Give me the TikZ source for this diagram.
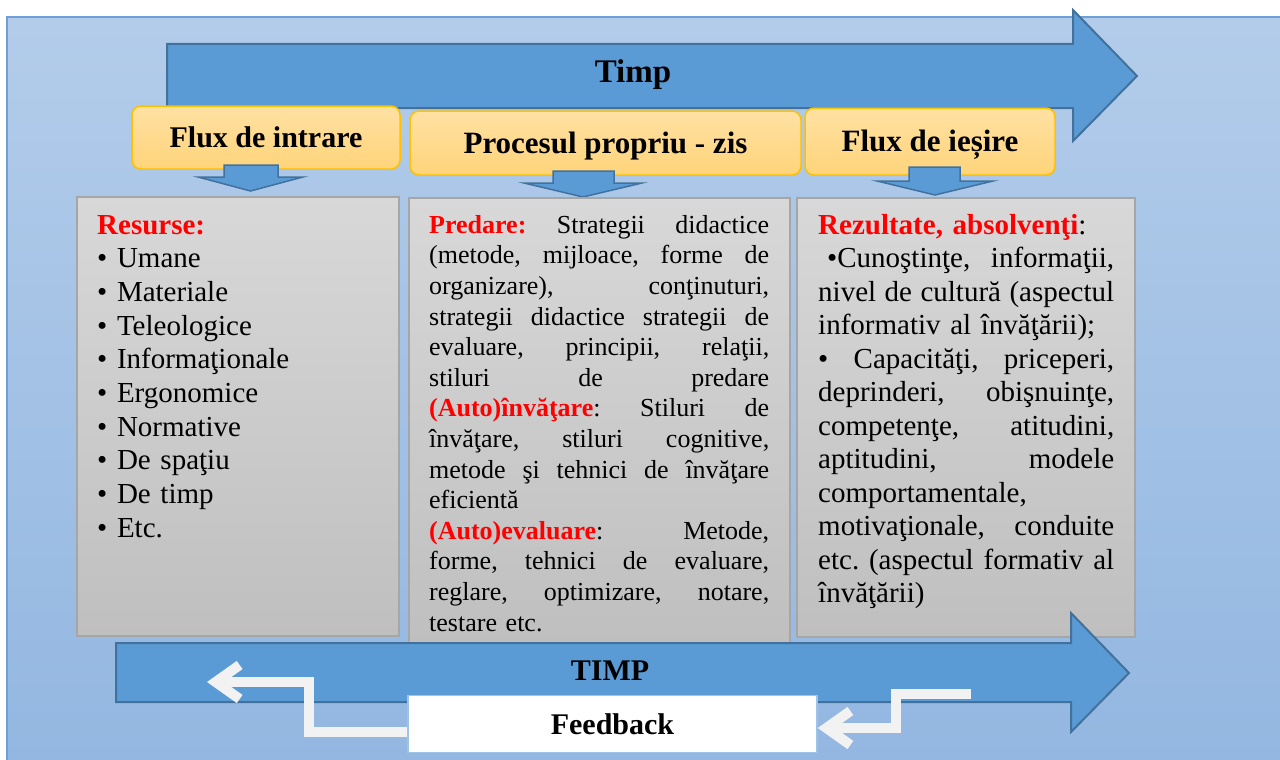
\documentclass[tikz,border=0pt]{standalone}
\usepackage{fontspec}
\setmainfont{Liberation Serif}
\usetikzlibrary{arrows.meta}
\definecolor{bgtop}{HTML}{B3CCEA}
\definecolor{bgbot}{HTML}{93B7E1}
\definecolor{bgline}{HTML}{6E9FD6}
\definecolor{arrfill}{HTML}{5B9BD5}
\definecolor{arrline}{HTML}{41719C}
\definecolor{yeltop}{HTML}{FFE1A3}
\definecolor{yelbot}{HTML}{FFD47A}
\definecolor{yelline}{HTML}{FFC000}
\definecolor{greytop}{HTML}{D8D8D8}
\definecolor{greybot}{HTML}{BFBFBF}
\definecolor{greyline}{HTML}{A6A6A6}
\definecolor{fbline}{HTML}{9DC3E6}
\definecolor{fbarrow}{HTML}{F2F2F2}
\definecolor{hl}{HTML}{FF0000}
\frenchspacing
\newcommand\hlt[1]{{\color{hl}\bfseries #1}}
\newcommand\jlm[1]{\makebox[340pt][s]{\spaceskip=0pt\xspaceskip=0pt #1}}
\newcommand\jlr[1]{\makebox[296pt][s]{\spaceskip=0pt\xspaceskip=0pt #1}}
\begin{document}
\begin{tikzpicture}[x=1pt,y=-1pt,
  bigarrow/.style={fill=arrfill, draw=arrline, line width=2pt, line join=miter},
  smallarrow/.style={fill=arrfill, draw=arrline, line width=1.5pt, line join=miter},
  yelbox/.style={rounded corners=9pt, top color=yeltop, bottom color=yelbot, draw=yelline,
    line width=1.5pt, text height=20pt, text depth=0pt, inner sep=0pt},
  greybox/.style={top color=greytop, bottom color=greybot, draw=greyline, line width=1.5pt, inner sep=0pt},
  boxtext/.style={anchor=north west, inner sep=0pt, align=left},
  fbarr/.style={draw=fbarrow, line width=10pt, -{Straight Barb[length=24pt,width=34pt]}},
  lbl/.style={inner sep=0pt, anchor=base, font=\bfseries}
]
\useasboundingbox (0,0) rectangle (1280,760);
\fill[white] (0,0) rectangle (1280,760);
\draw[draw=bgline, line width=1.5pt, top color=bgtop, bottom color=bgbot] (7,17) rectangle (1284,764);

% top time arrow
\draw[bigarrow] (167,44) -- (1073,44) -- (1073,10) -- (1137,76) -- (1073,141) -- (1073,108) -- (167,108) -- cycle;
\node[lbl, font=\fontsize{33}{38}\selectfont\bfseries] (timp) at (633,83) {Timp};

% yellow headers
\node[yelbox, minimum width=268pt, minimum height=63pt, font=\fontsize{30}{36}\selectfont\bfseries] (fin) at (266,137.5) {Flux de intrare};
\node[yelbox, minimum width=391pt, minimum height=64pt, font=\fontsize{31}{36}\selectfont\bfseries] (proc) at (605.5,143) {Procesul propriu - zis};
\node[yelbox, minimum width=250pt, minimum height=67pt, font=\fontsize{31}{36}\selectfont\bfseries] (fout) at (930,141.5) {Flux de ieșire};

% small down arrows
\draw[smallarrow] (224,165) -- (278,165) -- (278,177) -- (303,177) -- (250.5,191) -- (198,177) -- (224,177) -- cycle;
\draw[smallarrow] (553,171) -- (614,171) -- (614,183) -- (642,183) -- (583,197) -- (524,183) -- (553,183) -- cycle;
\draw[smallarrow] (909,167) -- (960,167) -- (960,181) -- (993,181) -- (935,195) -- (877,181) -- (909,181) -- cycle;

% grey boxes
\node[greybox, minimum width=322pt, minimum height=439pt] (lbox) at (238,416.5) {};
\node[greybox, minimum width=381pt, minimum height=445pt] (mbox) at (599.5,420.5) {};
\node[greybox, minimum width=338pt, minimum height=439pt] (rbox) at (966,417.5) {};

\node[boxtext, text width=290pt, font=\fontsize{29}{33.67}\selectfont] (ltext) at (97,210) {\noindent\rule{0pt}{24pt}\hlt{Resurse:}\\
• Umane\\
• Materiale\\
• Teleologice\\
• Informaţionale\\
• Ergonomice\\
• Normative\\
• De spaţiu\\
• De timp\\
• Etc.};

\node[boxtext, text width=340pt, font=\fontsize{26}{30.6}\selectfont] (mtext) at (429,211) {\noindent\rule{0pt}{22pt}\jlm{\hlt{Predare:} Strategii didactice}\\
\jlm{(metode, mijloace, forme de}\\
\jlm{organizare), conţinuturi,}\\
\jlm{strategii didactice strategii de}\\
\jlm{evaluare, principii, relaţii,}\\
\jlm{stiluri de predare}\\
\jlm{\hlt{(Auto)învăţare}: Stiluri de}\\
\jlm{învăţare, stiluri cognitive,}\\
\jlm{metode şi tehnici de învăţare}\\
eficientă\\
\jlm{\hlt{(Auto)evaluare}: Metode,}\\
\jlm{forme, tehnici de evaluare,}\\
\jlm{reglare, optimizare, notare,}\\
testare etc.};

\node[boxtext, text width=296pt, font=\fontsize{29}{33.5}\selectfont] (rtext) at (818,210) {\noindent\rule{0pt}{24pt}\hlt{Rezultate, absolvenţi}:\\
\jlr{\hspace*{9pt}•Cunoştinţe, informaţii,}\\
\jlr{nivel de cultură (aspectul}\\
informativ al învăţării);\\
\jlr{• Capacităţi, priceperi,}\\
\jlr{deprinderi, obişnuinţe,}\\
\jlr{competenţe, atitudini,}\\
\jlr{aptitudini, modele}\\
comportamentale,\\
\jlr{motivaţionale, conduite}\\
\jlr{etc. (aspectul formativ al}\\
învăţării)};

% bottom time arrow
\draw[bigarrow] (116,643) -- (1071,643) -- (1071,613) -- (1129,673) -- (1071,732) -- (1071,702) -- (116,702) -- cycle;
\node[lbl, font=\fontsize{30}{36}\selectfont\bfseries] (timp2) at (610,680) {TIMP};

% feedback
\node[fill=white, draw=fbline, line width=1.5pt, minimum width=409pt, minimum height=57pt,
  text height=20pt, text depth=0pt, inner sep=0pt, font=\fontsize{30}{36}\selectfont\bfseries] (feedback) at (612.5,724) {Feedback};
\coordinate (fbTipL) at (207,682);
\coordinate (fbStartR) at (971,694);
\draw[fbarr] ([yshift=-8pt]feedback.west) -- (309,732) -- (309,682) -- (fbTipL);
\draw[fbarr] (fbStartR) -- (896,694) -- (896,728) -- ([yshift=-4pt]feedback.east);
\end{tikzpicture}
\end{document}
